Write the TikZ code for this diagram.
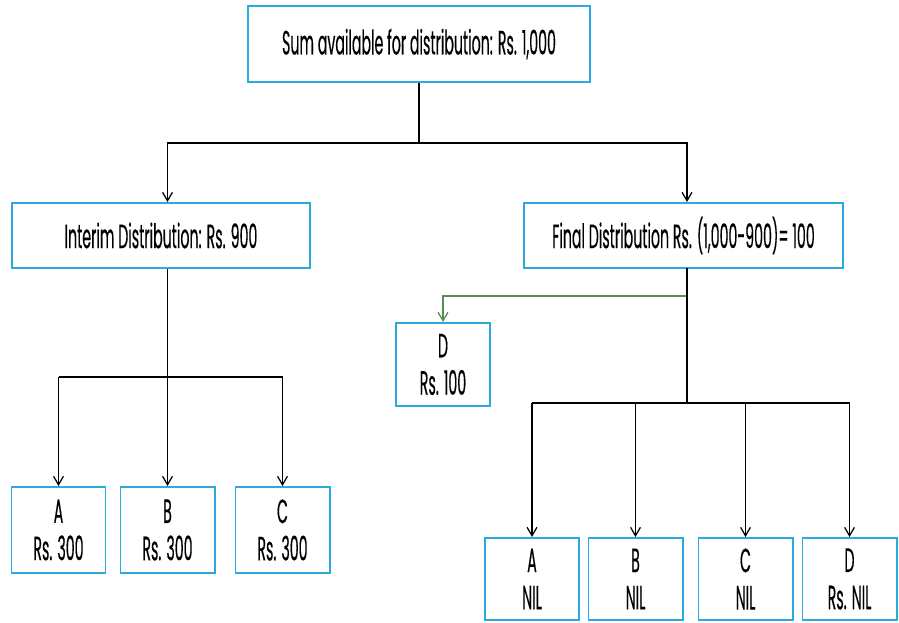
\documentclass[tikz,border=0pt]{standalone}
\usepackage{fontspec}
\setmainfont{Poppins}[FakeStretch=0.42,FakeBold=0.25]
\usetikzlibrary{arrows.meta}
\definecolor{boxblue}{RGB}{41,171,226}
\definecolor{linkgreen}{RGB}{84,140,84}
\tikzset{
  box/.style={draw=boxblue, line width=1.4pt, fill=white, align=center, inner sep=2pt, font=\fontsize{24}{26.5}\selectfont},
  link/.style={draw=black, line width=1pt},
  tolink/.style={link, -{Straight Barb[length=6pt,width=7pt,line width=0.9pt]}}
}
\begin{document}
\begin{tikzpicture}[x=0.025cm,y=-0.025cm]
  \useasboundingbox (0,0) rectangle (899,623); % keep the reference frame
  \node[box, minimum width=8.55cm, minimum height=1.9cm] (sum) at (419,44) {Sum available for distribution: Rs. 1,000};
  \node[box, minimum width=7.45cm, minimum height=1.625cm] (interim) at (161,235.5) {Interim Distribution: Rs. 900};
  \node[box, minimum width=7.975cm, minimum height=1.625cm] (final) at (683.5,235.5) {Final Distribution Rs. (1,000-900)= 100};
  \node[box, minimum width=2.35cm, minimum height=2.075cm] (dfull) at (443,364.5) {D\\Rs. 100};

  \node[box, minimum width=2.35cm, minimum height=2.15cm] (ia) at (58.5,530) {A\\Rs. 300};
  \node[box, minimum width=2.35cm, minimum height=2.15cm] (ib) at (167.5,530) {B\\Rs. 300};
  \node[box, minimum width=2.35cm, minimum height=2.15cm] (ic) at (282.5,530) {C\\Rs. 300};

  \node[box, minimum width=2.35cm, minimum height=2.05cm] (fa) at (532,579) {A\\NIL};
  \node[box, minimum width=2.35cm, minimum height=2.05cm] (fb) at (635.5,579) {B\\NIL};
  \node[box, minimum width=2.35cm, minimum height=2.05cm] (fc) at (745.5,579) {C\\NIL};
  \node[box, minimum width=2.35cm, minimum height=2.05cm] (fd) at (849.5,579) {D\\Rs. NIL};

  \coordinate (top) at (419,143);
  \coordinate (rtrunk) at (687,268);
  \draw[link] (sum.south) -- (top);
  \draw[tolink] (top) -| (ib |- interim.north);
  \draw[tolink] (top) -| (rtrunk |- final.north);

  % interim split
  \draw[link] (ib |- interim.south) -- (ib |- 0,377);
  \draw[tolink] (ia |- 0,377) -- (ia.north);
  \draw[tolink] (ib |- 0,377) -- (ib.north);
  \draw[tolink] (ic |- 0,377) -- (ic.north);
  \draw[link] (ia |- 0,377) -- (ic |- 0,377);

  % final split
  \draw[tolink, draw=linkgreen, line width=1.2pt] (rtrunk |- 0,296) -| (dfull.north);
  \draw[link] (rtrunk) -- (rtrunk |- 0,403);
  \draw[link] (fa |- 0,403) -- (fd |- 0,403);
  \foreach \n in {fa,fb,fc,fd}
    \draw[tolink] (\n |- 0,403) -- (\n.north);
\end{tikzpicture}
\end{document}
